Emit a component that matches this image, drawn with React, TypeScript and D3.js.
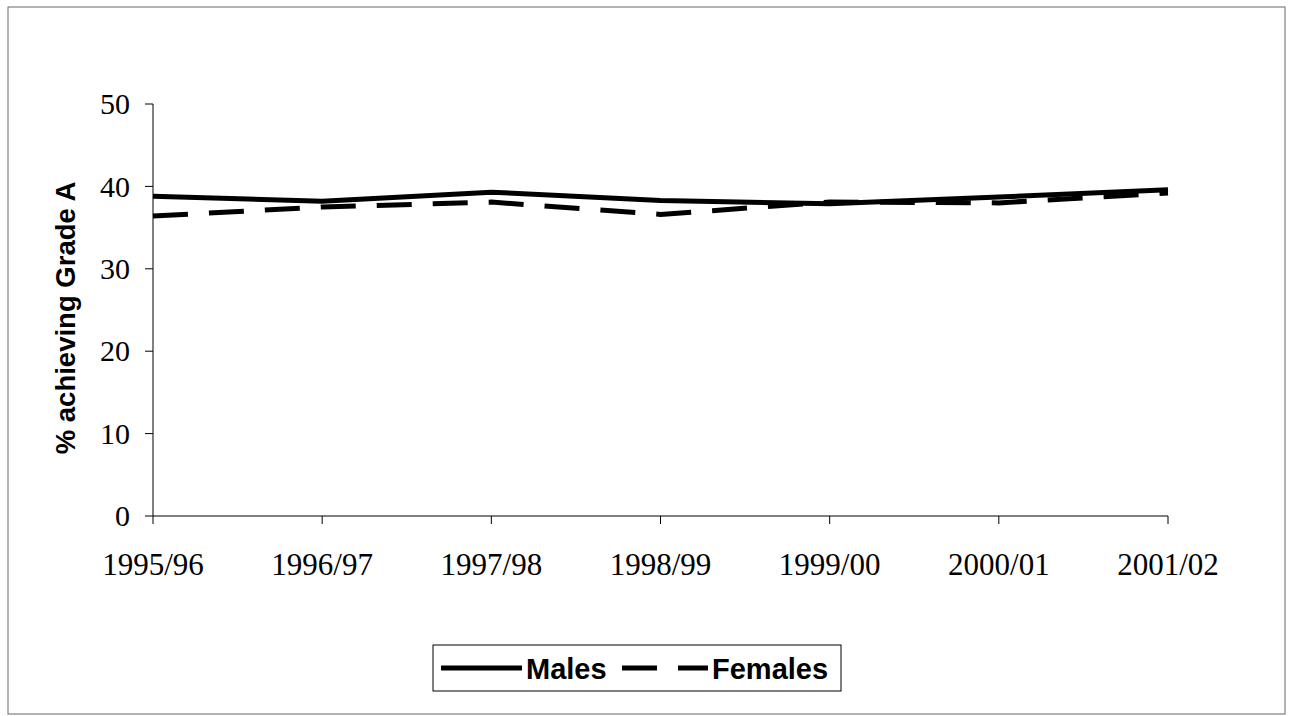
import * as d3 from 'd3';

const years = ['1995/96', '1996/97', '1997/98', '1998/99', '1999/00', '2000/01', '2001/02'];
const males = [38.8, 38.2, 39.3, 38.3, 37.9, 38.7, 39.6];
const females = [36.4, 37.5, 38.1, 36.6, 38.1, 38.0, 39.2];
const yTicks = [0, 10, 20, 30, 40, 50];

const W = 1290;
const H = 716;
const margin = { left: 153, right: 1290 - 1168, top: 104, bottom: 716 - 516 };

export default function App() {
  const x = d3.scalePoint<string>().domain(years).range([margin.left, W - margin.right]);
  const y = d3.scaleLinear().domain([0, 50]).range([H - margin.bottom, margin.top]);

  const line = d3.line<number>()
    .x((_, i) => x(years[i]) ?? 0)
    .y(d => y(d));

  const serif = '"Liberation Serif", "Times New Roman", serif';
  const sans = '"Liberation Sans", Arial, sans-serif';
  const y0 = y(0);

  return (
    <svg width={W} height={H} style={{ position: 'absolute', left: 0, top: 0, background: '#fff' }}>
      {/* outer frame */}
      <rect x={8} y={7} width={1277} height={707} fill="none" stroke="#666" strokeWidth={1} />

      {/* y axis */}
      <line x1={margin.left} x2={margin.left} y1={y(50)} y2={y0} stroke="#000" strokeWidth={1} />
      {yTicks.map(t => (
        <g key={t}>
          <line x1={margin.left - 8} x2={margin.left} y1={y(t)} y2={y(t)} stroke="#000" />
          <text x={margin.left - 23} y={y(t)} dy="0.34em" textAnchor="end" fontFamily={serif} fontSize={30}>
            {t}
          </text>
        </g>
      ))}

      {/* x axis */}
      <line x1={margin.left} x2={W - margin.right} y1={y0} y2={y0} stroke="#000" strokeWidth={1} />
      {years.map(yr => (
        <g key={yr}>
          <line x1={x(yr)} x2={x(yr)} y1={y0} y2={y0 + 8} stroke="#000" />
          <text x={x(yr)} y={y0 + 59} textAnchor="middle" fontFamily={serif} fontSize={31}>
            {yr}
          </text>
        </g>
      ))}

      {/* axis title */}
      <text
        transform={`translate(75,${318}) rotate(-90)`}
        textAnchor="middle"
        fontFamily={sans}
        fontWeight="bold"
        fontSize={27.5}
      >
        % achieving Grade A
      </text>

      {/* series */}
      <path d={line(males) ?? ''} fill="none" stroke="#000" strokeWidth={5} />
      <path d={line(females) ?? ''} fill="none" stroke="#000" strokeWidth={5} strokeDasharray="35 21" />

      {/* legend */}
      <rect x={433} y={645} width={408} height={46} fill="#fff" stroke="#000" strokeWidth={1} />
      <line x1={441} x2={522} y1={668} y2={668} stroke="#000" strokeWidth={5} />
      <text x={526} y={679} fontFamily={sans} fontWeight="bold" fontSize={29}>Males</text>
      <line x1={622} x2={708} y1={668} y2={668} stroke="#000" strokeWidth={5} strokeDasharray="35 21" />
      <text x={712} y={679} fontFamily={sans} fontWeight="bold" fontSize={29}>Females</text>
    </svg>
  );
}
